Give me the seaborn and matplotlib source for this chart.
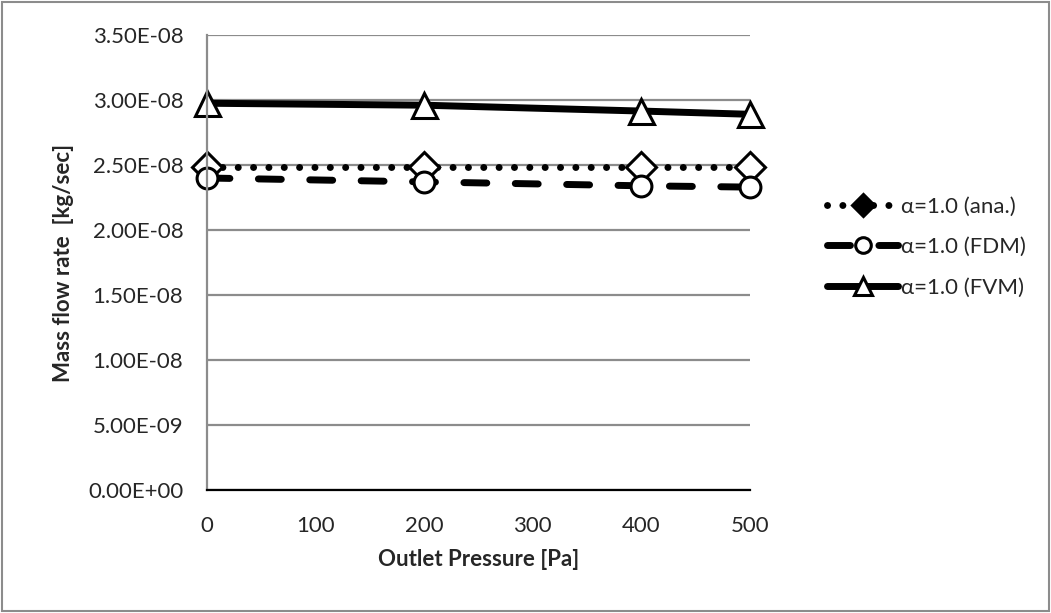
import matplotlib
matplotlib.use("Agg")
import matplotlib.pyplot as plt
from matplotlib.patches import Rectangle
from matplotlib.ticker import FuncFormatter
import seaborn as sns
import pandas as pd

# Outlet pressure [Pa]
pressure = [0, 200, 400, 500]
# Mass flow rate [kg/sec]
ana_rate = [2.485e-8, 2.485e-8, 2.485e-8, 2.485e-8]
fdm_rate = [2.40e-8, 2.37e-8, 2.34e-8, 2.33e-8]
fvm_rate = [2.975e-8, 2.96e-8, 2.915e-8, 2.89e-8]
series_names = ["α=1.0 (ana.)", "α=1.0 (FDM)", "α=1.0 (FVM)"]
y_ticks = [0, 5e-9, 1e-8, 1.5e-8, 2e-8, 2.5e-8, 3e-8, 3.5e-8]
x_ticks = [0, 100, 200, 300, 400, 500]

sns.set_style("white")
plt.rcParams["font.family"] = ["Lato", "DejaVu Sans"]
FS = 16

df = pd.DataFrame({
    "pressure": pressure * 3,
    "rate": ana_rate + fdm_rate + fvm_rate,
    "series": [series_names[0]] * 4 + [series_names[1]] * 4 + [series_names[2]] * 4,
})

fig = plt.figure(figsize=(10.51, 6.13), dpi=100)
ax = fig.add_axes([207 / 1051, 1 - 490 / 613, (750 - 207) / 1051, (490 - 35) / 613])

styles = {
    series_names[0]: dict(ls=(0, (0.01, 2.2)), lw=5, marker="D", ms=15, cap="round"),
    series_names[1]: dict(ls=(0, (3.3, 4.1)), lw=5, marker="o", ms=15, cap="round"),
    series_names[2]: dict(ls="-", lw=5, marker="^", ms=18, cap="butt"),
}

for name in series_names:
    sub = df[df["series"] == name]
    st = styles[name]
    sns.lineplot(data=sub, x="pressure", y="rate", ax=ax, color="black",
                 linestyle=st["ls"], linewidth=st["lw"], marker=st["marker"],
                 markersize=st["ms"], markerfacecolor="white", markeredgecolor="black",
                 markeredgewidth=2.2, label=name, clip_on=False,
                 dash_capstyle=st["cap"])

ax.set_xlim(0, 500)
ax.set_ylim(0, 3.5e-8)
ax.set_xticks(x_ticks)
ax.set_yticks(y_ticks)
ax.yaxis.set_major_formatter(FuncFormatter(lambda v, p: f"{v:.2E}"))
ax.grid(axis="y", color="#8c8c8c", lw=1.6)
ax.set_axisbelow(True)
for side in ["top", "right"]:
    ax.spines[side].set_visible(False)
ax.spines["left"].set_color("#8c8c8c")
ax.spines["left"].set_linewidth(1.6)
ax.spines["bottom"].set_color("black")
ax.spines["bottom"].set_linewidth(1.6)
ax.tick_params(axis="both", length=0, labelsize=FS)
ax.tick_params(axis="y", pad=17)
ax.tick_params(axis="x", pad=19)

ax.set_xlabel("Outlet Pressure [Pa]", fontsize=FS, fontweight="bold", labelpad=9)
ax.set_ylabel("Mass flow rate  [kg/sec]", fontsize=FS, fontweight="bold", labelpad=10)

leg = ax.legend(loc="center left", bbox_to_anchor=(827 / 1051, 1 - 247 / 613),
                bbox_transform=fig.transFigure, frameon=False, borderpad=0,
                borderaxespad=0, fontsize=FS, handlelength=3.2, handletextpad=0.15,
                labelspacing=0.92, markerscale=0.75)
# the analytic entry shows a solid diamond in the key
leg.legend_handles[0].set_markerfacecolor("black")

fig.patches.append(Rectangle((2 / 1051, 2 / 613), 1 - 4 / 1051, 1 - 4 / 613,
                             transform=fig.transFigure, fill=False,
                             edgecolor="#8c8c8c", lw=1.5))

fig.savefig("out.png", dpi=100)
